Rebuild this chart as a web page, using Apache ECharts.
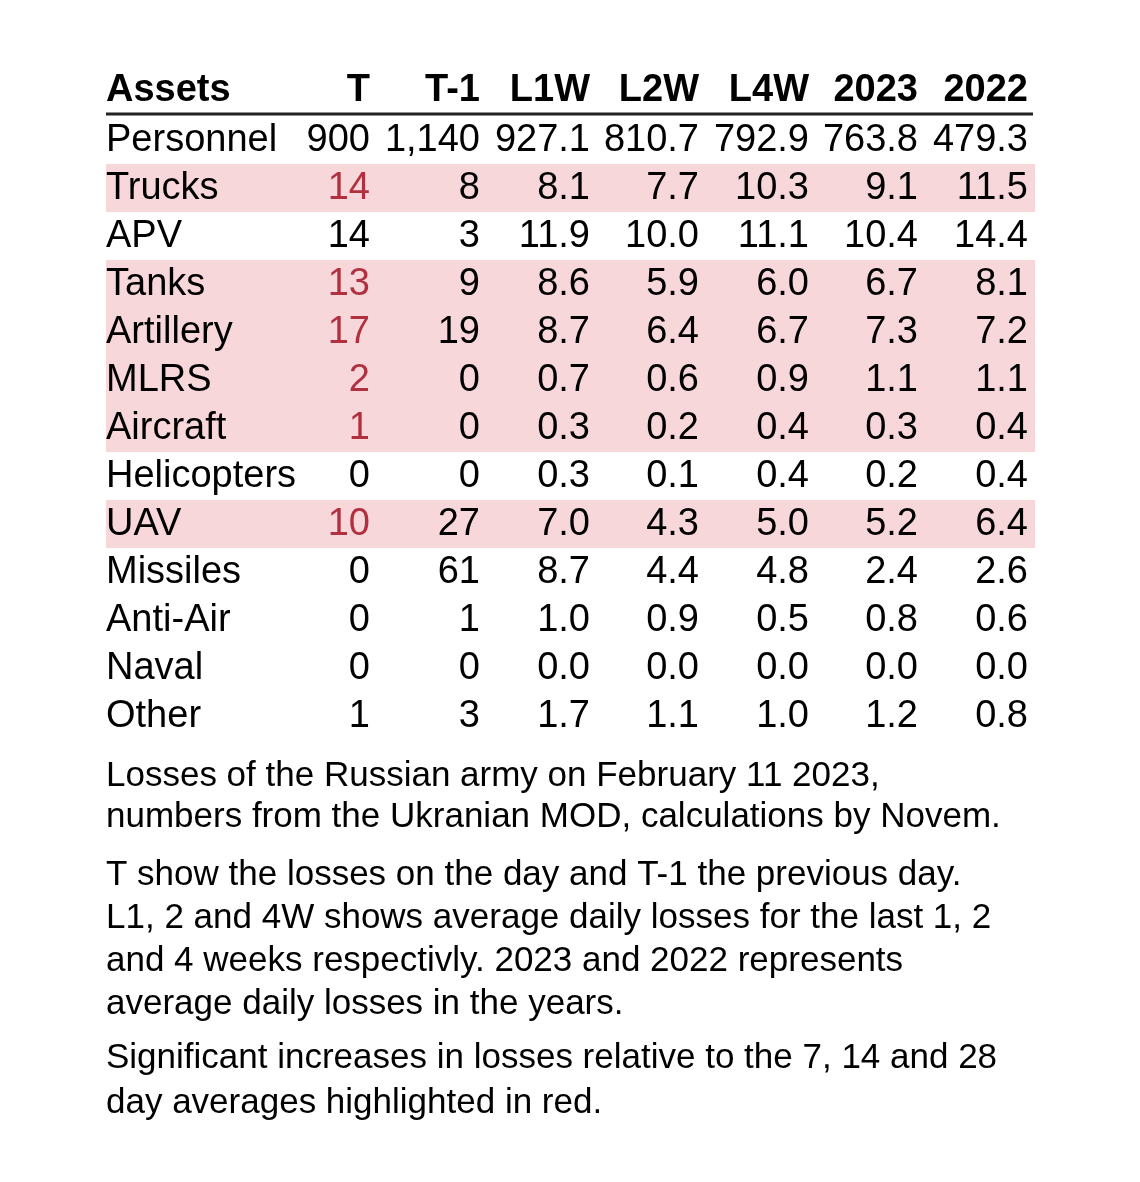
<!DOCTYPE html>
<html>
<head>
<meta charset="utf-8">
<script src="https://cdn.jsdelivr.net/npm/echarts@6/dist/echarts.min.js"></script>
<style>html,body{margin:0;background:#fff}#chart{width:1140px;height:1182px}</style>
</head>
<body>
<div id="chart"></div>
<script>
var columns = ['Assets', 'T', 'T-1', 'L1W', 'L2W', 'L4W', '2023', '2022'];
var assets = ['Personnel', 'Trucks', 'APV', 'Tanks', 'Artillery', 'MLRS', 'Aircraft',
  'Helicopters', 'UAV', 'Missiles', 'Anti-Air', 'Naval', 'Other'];
var colT = ['900', '14', '14', '13', '17', '2', '1', '0', '10', '0', '0', '0', '1'];
var colT1 = ['1,140', '8', '3', '9', '19', '0', '0', '0', '27', '61', '1', '0', '3'];
var colL1W = ['927.1', '8.1', '11.9', '8.6', '8.7', '0.7', '0.3', '0.3', '7.0', '8.7', '1.0', '0.0', '1.7'];
var colL2W = ['810.7', '7.7', '10.0', '5.9', '6.4', '0.6', '0.2', '0.1', '4.3', '4.4', '0.9', '0.0', '1.1'];
var colL4W = ['792.9', '10.3', '11.1', '6.0', '6.7', '0.9', '0.4', '0.4', '5.0', '4.8', '0.5', '0.0', '1.0'];
var col2023 = ['763.8', '9.1', '10.4', '6.7', '7.3', '1.1', '0.3', '0.2', '5.2', '2.4', '0.8', '0.0', '1.2'];
var col2022 = ['479.3', '11.5', '14.4', '8.1', '7.2', '1.1', '0.4', '0.4', '6.4', '2.6', '0.6', '0.0', '0.8'];
var highlighted = [false, true, false, true, true, true, true, false, true, false, false, false, false];
var captions = [
  ['Losses of the Russian army on February 11 2023,', 'numbers from the Ukranian MOD, calculations by Novem.'],
  ['T show the losses on the day and T-1 the previous day.', 'L1, 2 and 4W shows average daily losses for the last 1, 2',
   'and 4 weeks respectivly. 2023 and 2022 represents', 'average daily losses in the years.'],
  ['Significant increases in losses relative to the 7, 14 and 28', 'day averages highlighted in red.']
];

var valueCols = [colT, colT1, colL1W, colL2W, colL4W, col2023, col2022];
var colRight = [370, 480, 590, 699, 809, 918, 1028];
var left = 106, tableRight = 1035, rowH = 48, firstRowY = 141;
var font = '"Liberation Sans", Arial, sans-serif';
var red = '#b0303f', pink = '#f8d7db';

var els = [];
// header
els.push({ type: 'text', x: left, y: 91, style: { text: columns[0], font: 'bold 38px ' + font, fill: '#000', verticalAlign: 'middle' } });
columns.slice(1).forEach(function (c, j) {
  els.push({ type: 'text', x: colRight[j], y: 91, style: { text: c, font: 'bold 38px ' + font, fill: '#000', align: 'right', verticalAlign: 'middle' } });
});
els.push({ type: 'line', shape: { x1: left, y1: 114, x2: 1033, y2: 114 }, style: { stroke: '#222', lineWidth: 3 } });

assets.forEach(function (a, i) {
  var cy = firstRowY + i * rowH;
  if (highlighted[i]) {
    els.push({ type: 'rect', z: -1, shape: { x: left, y: cy - rowH / 2 - 1, width: tableRight - left, height: rowH }, style: { fill: pink } });
  }
  els.push({ type: 'text', x: left, y: cy, style: { text: a, font: '38px ' + font, fill: '#000', verticalAlign: 'middle' } });
  valueCols.forEach(function (col, j) {
    els.push({ type: 'text', x: colRight[j], y: cy, style: { text: col[i], font: '38px ' + font, fill: (j === 0 && highlighted[i]) ? red : '#000', align: 'right', verticalAlign: 'middle' } });
  });
});

var paraTop = [776, 875, 1058];
var lineGap = [41, 43, 45];
captions.forEach(function (p, k) {
  p.forEach(function (line, n) {
    els.push({ type: 'text', x: left, y: paraTop[k] + n * lineGap[k], style: { text: line, font: '35px ' + font, fill: '#000', verticalAlign: 'middle' } });
  });
});

var chart = echarts.init(document.getElementById('chart'));
chart.setOption({ backgroundColor: '#fff', animation: false, graphic: { elements: els } });
</script>
</body>
</html>
